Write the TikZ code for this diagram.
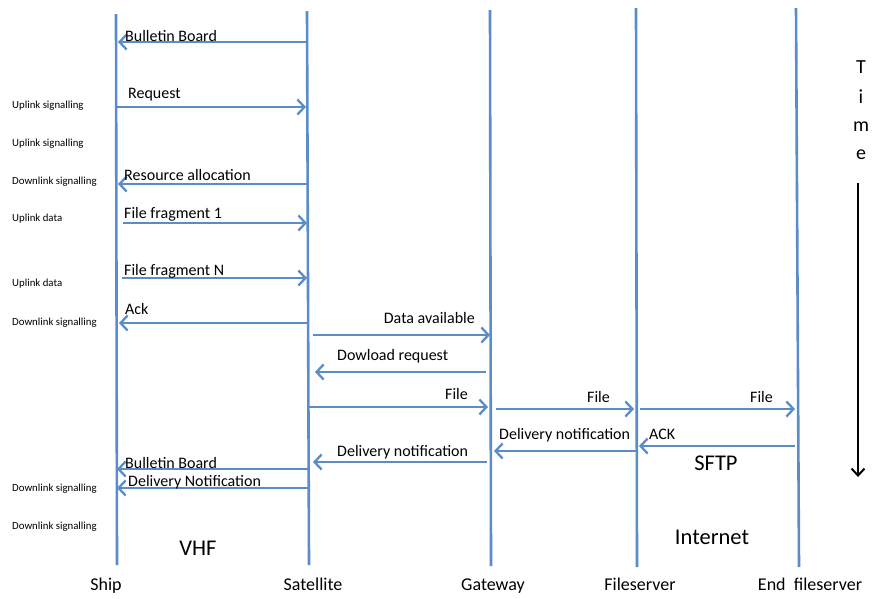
\documentclass[tikz,border=0pt]{standalone}
\usepackage{fontspec}
\setmainfont{Carlito}
\usetikzlibrary{arrows.meta}
\definecolor{lblue}{RGB}{90,140,200}
\tikzset{
  life/.style={draw=lblue,line width=2.6pt},
  msg/.style={draw=lblue,line width=2.3pt,-{Straight Barb[length=7pt,width=15pt,line width=2.3pt]}},
  lbl/.style={inner sep=0pt,anchor=west,text height=.66em,text depth=0pt,font=\fontsize{16}{18}\selectfont},
  lblr/.style={lbl,anchor=east},
  big/.style={inner sep=0pt,text height=.66em,text depth=0pt,font=\fontsize{22.5}{24}\selectfont},
  bot/.style={inner sep=0pt,text height=.66em,text depth=0pt,font=\fontsize{18}{20}\selectfont},
  side/.style={inner sep=0pt,anchor=west,text height=.66em,text depth=0pt,font=\fontsize{10.8}{12}\selectfont},
  tl/.style={inner sep=0pt,text height=.66em,text depth=0pt,font=\fontsize{20}{22}\selectfont}
}
\begin{document}
\begin{tikzpicture}[x=1pt,y=-1pt]
\useasboundingbox (0,0) rectangle (877,598);
% lifelines
\coordinate (shipT) at (116,14); \coordinate (shipB) at (117,565);
\coordinate (satT) at (307,11); \coordinate (satB) at (309,565);
\coordinate (gwT) at (490,10); \coordinate (gwB) at (491,566);
\coordinate (fsT) at (636,8); \coordinate (fsB) at (637,567);
\coordinate (endT) at (796,8); \coordinate (endB) at (799,567);
\draw[life] (shipT) -- (shipB);
\draw[life] (satT) -- (satB);
\draw[life] (gwT) -- (gwB);
\draw[life] (fsT) -- (fsB);
\draw[life] (endT) -- (endB);
% message end points
\coordinate (a1s) at (307,42);  \coordinate (a1e) at (118,42);
\coordinate (a2s) at (116,107); \coordinate (a2e) at (306,107);
\coordinate (a3s) at (307,184); \coordinate (a3e) at (118,184);
\coordinate (a4s) at (123,223); \coordinate (a4e) at (307,223);
\coordinate (a5s) at (122,278); \coordinate (a5e) at (307,278);
\coordinate (a6s) at (307,323); \coordinate (a6e) at (119,323);
\coordinate (a7s) at (313,335); \coordinate (a7e) at (490,335);
\coordinate (a8s) at (486,372); \coordinate (a8e) at (315,372);
\coordinate (a9s) at (309,407); \coordinate (a9e) at (488,407);
\coordinate (a10s) at (496,409); \coordinate (a10e) at (634,409);
\coordinate (a11s) at (640,409); \coordinate (a11e) at (795,409);
\coordinate (a12s) at (637,451); \coordinate (a12e) at (494,451);
\coordinate (a13s) at (795,446); \coordinate (a13e) at (639,446);
\coordinate (a14s) at (487,462); \coordinate (a14e) at (313,462);
\coordinate (a15s) at (308,469); \coordinate (a15e) at (117,469);
\coordinate (a16s) at (308,488); \coordinate (a16e) at (117,488);
\foreach \i in {1,...,16} \draw[msg] (a\i s) -- (a\i e);
% message labels
\node[lbl] (l1) at (125,38) {Bulletin Board};
\node[lbl] (l2) at (128,95) {Request};
\node[lbl] (l3) at (124,177) {Resource allocation};
\node[lbl] (l4) at (124,215) {File fragment 1};
\node[lbl] (l5) at (124,272) {File fragment N};
\node[lbl] (l6) at (125,311) {Ack};
\node[lblr] (l7) at (475,320) {Data available};
\node[lbl] (l8) at (337,357) {Dowload request};
\node[lbl] (l9) at (445,396) {File};
\node[lbl] (l10) at (587,399) {File};
\node[lbl] (l11) at (750,399) {File};
\node[lbl] (l12) at (499,436) {Delivery notification};
\node[lbl] (l13) at (649,436) {ACK};
\node[lbl] (l14) at (337,453) {Delivery notification};
\node[lbl] (l15) at (125,465) {Bulletin Board};
\node[lbl] (l16) at (128,483) {Delivery Notification};
% big labels
\node[big] (sftp) at (716,467) {SFTP};
\node[big] (inet) at (712,541) {Internet};
\node[big] (vhf) at (198,552) {VHF};
% bottom labels
\node[bot] (nship) at (106,587) {Ship};
\node[bot] (nsat) at (313,587) {Satellite};
\node[bot] (ngw) at (493,587) {Gateway};
\node[bot] (nfs) at (640,587) {Fileserver};
\node[bot] (nend) at (810,587) {End\ \ fileserver};
% side labels
\node[side] (s1) at (12,105) {Uplink signalling};
\node[side] (s2) at (12,143) {Uplink signalling};
\node[side] (s3) at (12,181) {Downlink signalling};
\node[side] (s4) at (12,218) {Uplink data};
\node[side] (s5) at (12,283) {Uplink data};
\node[side] (s6) at (12,322) {Downlink signalling};
\node[side] (s7) at (12,488) {Downlink signalling};
\node[side] (s8) at (12,526) {Downlink signalling};
% time
\node[tl] (tT) at (861,70) {T};
\node[tl] (ti) at (861,100) {i};
\node[tl] (tm) at (861,128) {m};
\node[tl] (te) at (861,156) {e};
\coordinate (tS) at (858,183); \coordinate (tE) at (858,477);
\draw[line width=2pt,-{Straight Barb[length=7pt,width=13pt,line width=2pt]}] (tS) -- (tE);
\end{tikzpicture}
\end{document}
